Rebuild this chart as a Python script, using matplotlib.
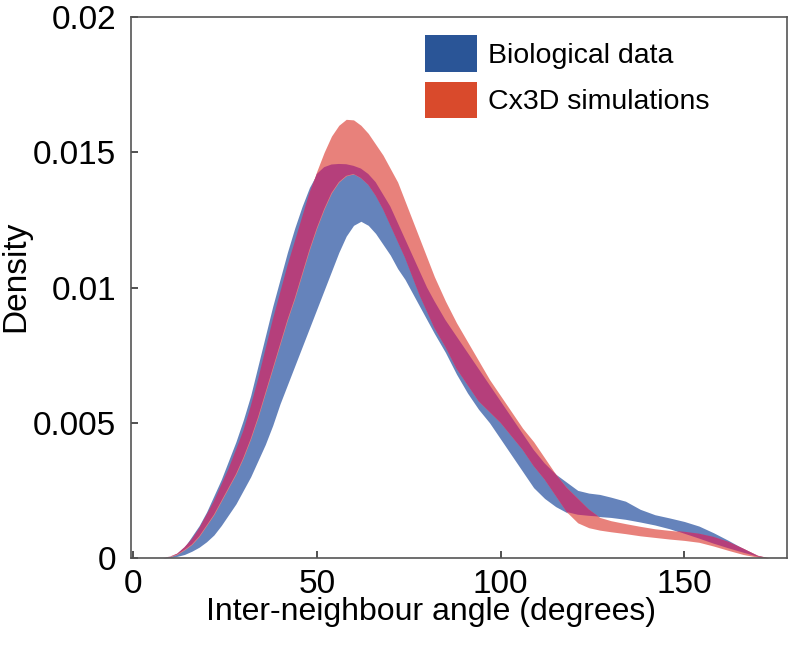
import numpy as np
import matplotlib
matplotlib.use("Agg")
import matplotlib.pyplot as plt
from matplotlib.patches import Patch

# ---- data ----
angle = [8, 10, 12, 14, 16, 18, 20, 22, 24, 26, 28, 30, 32, 34, 36, 38, 40, 42, 44, 46,
         48, 50, 52, 54, 56, 58, 60, 62, 64, 66, 68, 70, 72, 74, 76, 78, 80, 82, 85, 88,
         91, 94, 97, 100, 103, 106, 109, 112, 115, 118, 121, 124, 127, 130, 134, 138, 142, 146, 150, 154,
         158, 162, 166, 170, 173]

bio_upper = [0, 0.00005, 0.00016, 0.0004, 0.0008, 0.0012, 0.0017, 0.0023, 0.0029, 0.0036,
             0.0043, 0.0051, 0.0060, 0.0071, 0.0082, 0.0093, 0.0103, 0.0113, 0.0122, 0.0130,
             0.0137, 0.0142, 0.01445, 0.01455, 0.01457, 0.01456, 0.0145, 0.0144, 0.0142, 0.0139,
             0.01345, 0.0130, 0.0124, 0.0118, 0.0112, 0.0106, 0.0100, 0.0095, 0.0088, 0.0082,
             0.0076, 0.0070, 0.0064, 0.0058, 0.0052, 0.0046, 0.0040, 0.0035, 0.0031, 0.0028,
             0.0025, 0.0024, 0.00235, 0.00225, 0.0021, 0.0018, 0.0016, 0.00148, 0.00135, 0.00118,
             0.00093, 0.00065, 0.00035, 0.00008, 0]

bio_lower = [0, 0.00002, 0.00006, 0.00013, 0.00025, 0.0004, 0.0006, 0.00085, 0.0012, 0.0016,
             0.0020, 0.0025, 0.0030, 0.0036, 0.0042, 0.0049, 0.0057, 0.0064, 0.0071, 0.0078,
             0.0085, 0.0092, 0.0099, 0.0106, 0.0113, 0.0119, 0.0123, 0.01245, 0.0123, 0.0120,
             0.0116, 0.0112, 0.0107, 0.0103, 0.0098, 0.0093, 0.0088, 0.0083, 0.0076, 0.0068,
             0.0061, 0.0055, 0.0050, 0.0044, 0.0038, 0.0032, 0.0026, 0.0022, 0.0019, 0.00168,
             0.0016, 0.00156, 0.00153, 0.0015, 0.00143, 0.00133, 0.00122, 0.00108, 0.0009, 0.00072,
             0.00053, 0.00036, 0.0002, 0.00005, 0]

sim_upper = [0, 0.00006, 0.00018, 0.0004, 0.0007, 0.0011, 0.0016, 0.0021, 0.0027, 0.0033,
             0.0040, 0.0047, 0.0056, 0.0066, 0.0077, 0.0088, 0.0098, 0.0108, 0.0117, 0.0126,
             0.0135, 0.0143, 0.0150, 0.0156, 0.0160, 0.01622, 0.0162, 0.0160, 0.0157, 0.0153,
             0.0149, 0.0144, 0.0139, 0.0132, 0.0125, 0.0118, 0.0111, 0.0104, 0.0095, 0.0087,
             0.0080, 0.0073, 0.0066, 0.0060, 0.0054, 0.0048, 0.0043, 0.0037, 0.0031, 0.0026,
             0.0022, 0.0018, 0.0015, 0.00138, 0.00127, 0.00117, 0.00108, 0.00102, 0.00097, 0.0009,
             0.00078, 0.0006, 0.00036, 0.0001, 0]

sim_lower = [0, 0.00004, 0.00013, 0.0003, 0.0005, 0.0008, 0.0012, 0.0016, 0.0021, 0.0026,
             0.0031, 0.0037, 0.0044, 0.0052, 0.0061, 0.0070, 0.0079, 0.0088, 0.0096, 0.0105,
             0.0114, 0.0122, 0.0129, 0.0135, 0.0139, 0.01413, 0.0142, 0.01405, 0.0138, 0.0134,
             0.0129, 0.0123, 0.0117, 0.0111, 0.0104, 0.0097, 0.0091, 0.0085, 0.0078, 0.0070,
             0.0064, 0.0058, 0.0054, 0.0050, 0.0045, 0.0040, 0.0034, 0.0029, 0.0023, 0.0017,
             0.0013, 0.00112, 0.00103, 0.00097, 0.0009, 0.00082, 0.00076, 0.0007, 0.00065, 0.00058,
             0.00044, 0.00028, 0.00013, 0.00003, 0]

series_labels = ["Biological data", "Cx3D simulations"]
xticks = [0, 50, 100, 150]
yticks = [0, 0.005, 0.01, 0.015, 0.02]
yticklabels = ["0", "0.005", "0.01", "0.015", "0.02"]

# ---- style ----
plt.rcParams['font.family'] = ['Liberation Sans', 'DejaVu Sans']
blue_fill = '#6583bb'
red_fill = '#e8817b'
overlap_fill = '#b53f7b'
blue_solid = '#2a5597'
red_solid = '#d94a2c'

fig = plt.figure(figsize=(8, 6.58), dpi=100)
ax = fig.add_axes([0.164, 0.152, 0.820, 0.822])

x = np.array(angle)
bl, bu = np.array(bio_lower), np.array(bio_upper)
sl, su = np.array(sim_lower), np.array(sim_upper)

ax.fill_between(x, bl, bu, color=blue_fill, linewidth=0)
ax.fill_between(x, sl, su, color=red_fill, linewidth=0)
lo = np.maximum(bl, sl)
hi = np.minimum(bu, su)
ax.fill_between(x, lo, hi, where=hi > lo, interpolate=True, color=overlap_fill, linewidth=0)

ax.set_xlim(-0.5, 178)
ax.set_ylim(0, 0.02)
ax.set_xticks(xticks)
ax.set_xticklabels([str(t) for t in xticks])
ax.set_yticks(yticks)
ax.set_yticklabels(yticklabels)
ax.tick_params(direction='in', length=5, width=1.2, labelsize=24, pad=8,
               colors='#333333', labelcolor='black')
ax.tick_params(axis='y', pad=11)
for s in ax.spines.values():
    s.set_color('#555555')
    s.set_linewidth(1.2)

ax.set_xlabel("Inter-neighbour angle (degrees)", fontsize=23)
ax.xaxis.set_label_coords(0.457, -0.073)
ax.set_ylabel("Density", fontsize=24)
ax.yaxis.set_label_coords(-0.152, 0.52)

handles = [Patch(facecolor=blue_solid, edgecolor='none'),
           Patch(facecolor=red_solid, edgecolor='none')]
fig.legend(handles, series_labels, loc='upper left',
           bbox_to_anchor=(425 / 800, 1 - 35 / 658), bbox_transform=fig.transFigure,
           frameon=False, fontsize=20.5, handlelength=1.83, handleheight=1.6,
           handletextpad=0.4, labelspacing=0.35, borderpad=0, borderaxespad=0)

fig.savefig("out.png", dpi=100)
